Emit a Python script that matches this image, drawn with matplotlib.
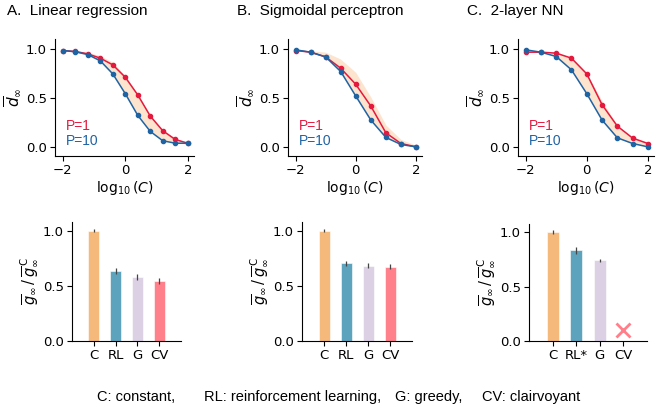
import numpy as np
import matplotlib
matplotlib.use("Agg")
import matplotlib.pyplot as plt

# ---------------- data ----------------
titles = ["A.  Linear regression", "B.  Sigmoidal perceptron", "C.  2-layer NN"]

xA = [-2.0, -1.6, -1.2, -0.8, -0.4, 0.0, 0.4, 0.8, 1.2, 1.6, 2.0]
p1_A = [0.983, 0.973, 0.949, 0.905, 0.837, 0.711, 0.531, 0.316, 0.167, 0.078, 0.040]
p10_A = [0.983, 0.970, 0.942, 0.878, 0.745, 0.544, 0.323, 0.160, 0.065, 0.040, 0.040]
bandlo_A = [0.980, 0.965, 0.935, 0.870, 0.740, 0.540, 0.330, 0.170, 0.075, 0.040, 0.030]
bandhi_A = [0.990, 0.980, 0.965, 0.930, 0.865, 0.725, 0.535, 0.325, 0.170, 0.090, 0.045]

xB = [-2.0, -1.5, -1.0, -0.5, 0.0, 0.5, 1.0, 1.5, 2.0]
p1_B = [0.983, 0.966, 0.918, 0.803, 0.639, 0.418, 0.146, 0.037, 0.003]
p10_B = [0.990, 0.966, 0.918, 0.769, 0.520, 0.276, 0.099, 0.027, 0.003]
bandlo_B = [0.985, 0.962, 0.912, 0.765, 0.515, 0.275, 0.100, 0.030, 0.005]
bandhi_B = [0.990, 0.980, 0.966, 0.895, 0.760, 0.510, 0.225, 0.078, 0.020]

xC = [-2.0, -1.5, -1.0, -0.5, 0.0, 0.5, 1.0, 1.5, 2.0]
p1_C = [0.966, 0.966, 0.956, 0.905, 0.745, 0.432, 0.214, 0.092, 0.037]
p10_C = [0.990, 0.966, 0.922, 0.786, 0.544, 0.276, 0.095, 0.037, 0.003]
bandlo_C = [0.985, 0.966, 0.925, 0.790, 0.545, 0.280, 0.098, 0.040, 0.005]
bandhi_C = [0.990, 0.975, 0.960, 0.910, 0.750, 0.470, 0.220, 0.095, 0.040]

bar_labels_A = ["C", "RL", "G", "CV"]
bar_labels_B = ["C", "RL", "G", "CV"]
bar_labels_C = ["C", "RL*", "G", "CV"]
bars_A = [1.000, 0.634, 0.578, 0.544]
errs_A = [0.018, 0.025, 0.025, 0.025]
bars_B = [1.000, 0.705, 0.682, 0.673]
errs_B = [0.012, 0.022, 0.022, 0.022]
bars_C = [1.000, 0.834, 0.742, np.nan]
errs_C = [0.018, 0.030, 0.015, np.nan]
cv_marker_C = 0.098  # position of the "x" marker for unavailable CV

caption_parts = ["C: constant,", "RL: reinforcement learning,", "G: greedy,",
                 "CV: clairvoyant"]

# ---------------- style ----------------
RED = "#e5193d"
BLUE = "#1f63a3"
BAND = "#fde4cf"
BAR_COLORS = ["#f6b97c", "#5ea3bd", "#dcd0e5", "#ff808b"]
SANS = ["Liberation Sans", "DejaVu Sans"]

plt.rcParams["font.family"] = ["DejaVu Sans"]
plt.rcParams["mathtext.fontset"] = "dejavusans"

W, H = 664, 409
fig = plt.figure(figsize=(W / 100, H / 100), dpi=100)

def ax_px(x0, x1, y0, y1):
    return fig.add_axes([x0 / W, 1 - y1 / H, (x1 - x0) / W, (y1 - y0) / H])

top_pos = [(55, 194), (288, 422), (518, 654)]
bot_pos = [(72, 181), (302, 412), (529, 647)]

lines = [(xA, p1_A, p10_A, bandlo_A, bandhi_A),
         (xB, p1_B, p10_B, bandlo_B, bandhi_B),
         (xC, p1_C, p10_C, bandlo_C, bandhi_C)]
title_x = [7, 237, 467]

for i, (x0, x1) in enumerate(top_pos):
    ax = ax_px(x0, x1, 39, 156)
    x, p1, p10, lo, hi = lines[i]
    ax.fill_between(x, lo, hi, color=BAND, lw=0, zorder=1)
    ax.plot(x, p1, "-o", color=RED, lw=1.1, ms=3, zorder=3)
    ax.plot(x, p10, "-o", color=BLUE, lw=1.1, ms=3, zorder=4)
    ax.set_xlim(-2.25, 2.2)
    ax.set_ylim(-0.09, 1.1)
    ax.set_xticks([-2, 0, 2])
    ax.set_yticks([0.0, 0.5, 1.0])
    ax.tick_params(labelsize=9.5, length=3.5, width=0.8, pad=2.5)
    for s in ["top", "right"]:
        ax.spines[s].set_visible(False)
    ax.set_xlabel(r"$\log_{10}(C)$", fontsize=10, labelpad=1)
    ax.set_ylabel(r"$\overline{d}_\infty$", fontsize=11, labelpad=2)
    ax.text(0.08, 0.26, "P=1", color=RED, fontsize=10, family=SANS,
            transform=ax.transAxes, va="center")
    ax.text(0.08, 0.125, "P=10", color=BLUE, fontsize=10, family=SANS,
            transform=ax.transAxes, va="center")
    fig.text(title_x[i] / W, 1 - 11 / H, titles[i], fontsize=11, family=SANS,
             va="center", ha="left")

bar_sets = [(bar_labels_A, bars_A, errs_A), (bar_labels_B, bars_B, errs_B),
            (bar_labels_C, bars_C, errs_C)]
bot_top = [222, 222, 224]
for i, (x0, x1) in enumerate(bot_pos):
    ax = ax_px(x0, x1, bot_top[i], 341)
    labels, vals, errs = bar_sets[i]
    pos = np.arange(len(labels))
    ax.bar(pos, vals, width=0.5, color=BAR_COLORS, edgecolor="white",
           linewidth=0.4, zorder=2)
    ax.errorbar(pos, vals, yerr=errs, fmt="none", ecolor="#444444",
                elinewidth=0.9, capsize=0, zorder=3)
    if i == 2:
        ax.plot([3], [cv_marker_C], marker="x", color=BAR_COLORS[3], ms=10,
                mew=2, zorder=4)
    ax.set_xlim(-1, 4)
    ax.set_ylim(0, 1.077)
    ax.set_xticks(pos)
    ax.set_xticklabels(labels)
    ax.set_yticks([0.0, 0.5, 1.0])
    ax.tick_params(labelsize=9.5, length=3.5, width=0.8, pad=2.5)
    for s in ["top", "right"]:
        ax.spines[s].set_visible(False)
    ax.set_ylabel(r"$\overline{g}_\infty\,/\,\overline{g}_\infty^{\,\mathrm{C}}$",
                  fontsize=10.5, labelpad=2)

caption_x = [97, 204, 395, 482]
for cx, part in zip(caption_x, caption_parts):
    fig.text(cx / W, 1 - 397 / H, part, fontsize=10.5, family=SANS,
             ha="left", va="center")

fig.savefig("out.png", dpi=100)
